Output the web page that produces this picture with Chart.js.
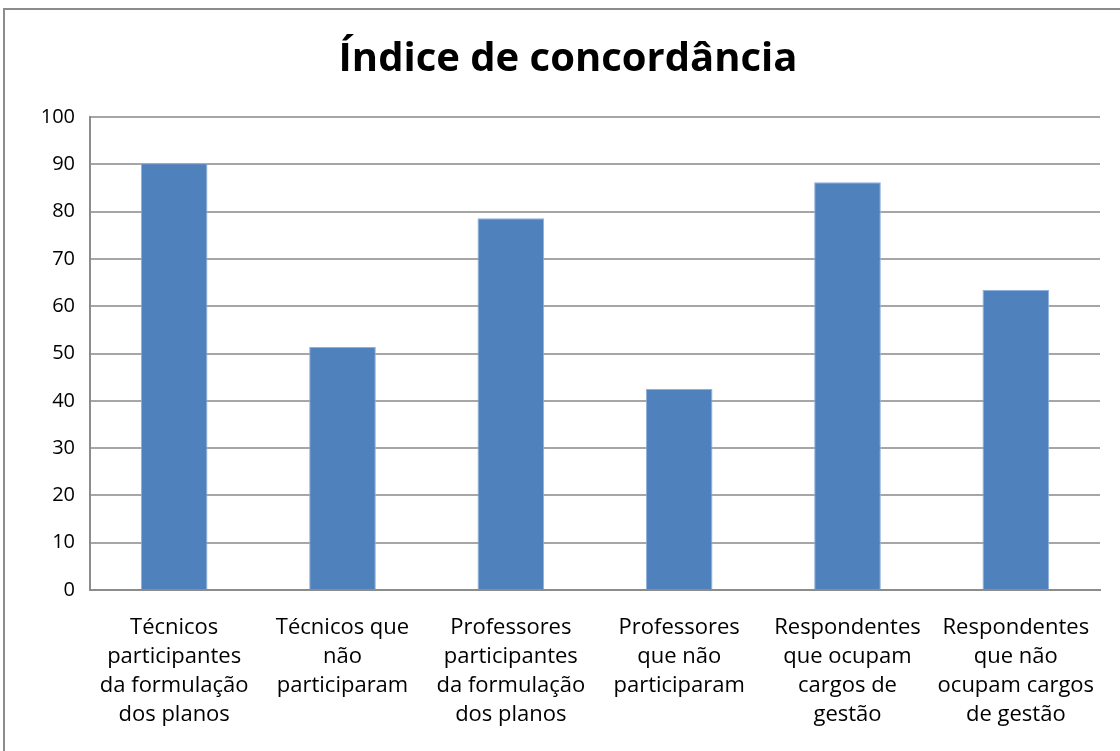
<!DOCTYPE html>
<html>
<head>
<meta charset="utf-8">
<script src="https://cdn.jsdelivr.net/npm/chart.js@4"></script>
<style>
  html, body { margin: 0; padding: 0; background: #fff; overflow: hidden; }
  #frame { position: absolute; left: 3px; top: 8px; right: 0; bottom: 0; border-left: 2px solid #8c8c8c; border-top: 2px solid #8c8c8c; }
  #wrap { position: absolute; left: 0; top: 0; width: 1120px; height: 751px; }
</style>
</head>
<body>
<div id="frame"></div>
<div id="wrap"><canvas id="indice-chart"></canvas></div>
<script>
// Categorias (rótulos do eixo x, quebrados em linhas)
const categorias = [
  ["Técnicos", "participantes", "da formulação", "dos planos"],
  ["Técnicos que", "não", "participaram"],
  ["Professores", "participantes", "da formulação", "dos planos"],
  ["Professores", "que não", "participaram"],
  ["Respondentes", "que ocupam", "cargos de", "gestão"],
  ["Respondentes", "que não", "ocupam cargos", "de gestão"]
];

// Valores do índice
const valores = [90.2, 51.4, 78.6, 42.5, 86.2, 63.4];

// Eixo y
const yMin = 0;
const yMax = 100;
const yPasso = 10;

const fonte = "'Open Sans', Lato, sans-serif";

var ctx = document.getElementById("indice-chart");

new Chart(ctx, {
  type: "bar",
  data: {
    labels: categorias,
    datasets: [{
      label: "Índice de concordância",
      data: valores,
      backgroundColor: "#4f81bd",
      borderColor: "#8fb0dc",
      borderWidth: 1,
      categoryPercentage: 1,
      barPercentage: 0.396
    }]
  },
  options: {
    responsive: true,
    maintainAspectRatio: false,
    animation: false,
    layout: { padding: { left: 36, right: 20, top: 0, bottom: 0 } },
    plugins: {
      legend: { display: false },
      tooltip: { enabled: false },
      title: {
        display: true,
        text: "Índice de concordância",
        color: "#000",
        font: { family: fonte, size: 40, weight: "bold" },
        padding: { top: 36, bottom: 33 }
      }
    },
    scales: {
      x: {
        grid: { display: false, drawTicks: false },
        border: { color: "#8c8c8c", width: 2 },
        ticks: {
          color: "#000",
          font: { family: fonte, size: 22, lineHeight: 1.32 },
          padding: 23,
          maxRotation: 0,
          autoSkip: false
        },
        afterFit: function (s) { s.height = 161; }
      },
      y: {
        min: yMin,
        max: yMax,
        grid: { color: "#a6a6a6", lineWidth: 2, drawTicks: false },
        border: { color: "#8c8c8c", width: 2 },
        ticks: {
          stepSize: yPasso,
          color: "#000",
          font: { family: fonte, size: 20 },
          padding: 15
        },
        afterFit: function (s) { s.width = 54; }
      }
    }
  }
});
</script>
</body>
</html>
